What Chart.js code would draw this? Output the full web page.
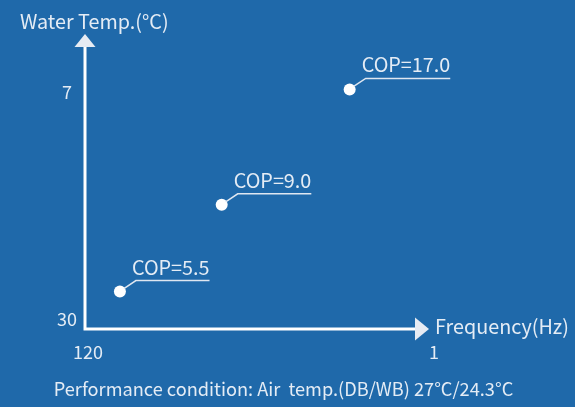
<!DOCTYPE html>
<html>
<head>
<meta charset="utf-8">
<script src="https://cdn.jsdelivr.net/npm/chart.js@4"></script>
<style>
  html, body { margin: 0; padding: 0; background: #1f69aa; }
  canvas { display: block; }
</style>
</head>
<body>
<canvas id="copChart" width="575" height="407"></canvas>
<script>
// chart data
const frequency = [109, 74, 30];          // Hz
const waterTemp = [27.2, 18.4, 6.7];      // °C
const copLabels = ['COP=5.5', 'COP=9.0', 'COP=17.0'];
const xTicks = [120, 1];
const yTicks = [7, 30];

const xTitle = 'Frequency(Hz)';
const yTitle = 'Water Temp.(°C)';
const footer = 'Performance condition: Air  temp.(DB/WB) 27°C/24.3°C';

const BG = '#1f69aa';
const TEXT = '#e4ecf5';
const FONT = "'Noto Sans CJK SC', 'Noto Sans', sans-serif";

Chart.defaults.font.family = FONT;
Chart.defaults.font.size = 18;
Chart.defaults.color = TEXT;

// axes with arrowheads, axis titles, COP callouts and the footer note
const decorations = {
    id: 'decorations',
    afterDatasetsDraw(chart) {
        const { ctx, chartArea: a } = chart;
        ctx.save();

        // axis lines
        ctx.strokeStyle = '#ffffff';
        ctx.lineWidth = 3;
        ctx.beginPath();
        ctx.moveTo(a.left, a.top);
        ctx.lineTo(a.left, a.bottom);
        ctx.lineTo(a.right - 19, a.bottom);
        ctx.stroke();

        // arrowheads
        ctx.fillStyle = '#e6ebf3';
        ctx.beginPath();
        ctx.moveTo(a.left, a.top - 13);
        ctx.lineTo(a.left - 10.5, a.top);
        ctx.lineTo(a.left + 10.5, a.top);
        ctx.closePath();
        ctx.fill();
        ctx.beginPath();
        ctx.moveTo(a.right - 5, a.bottom);
        ctx.lineTo(a.right - 19, a.bottom - 11.5);
        ctx.lineTo(a.right - 19, a.bottom + 11.5);
        ctx.closePath();
        ctx.fill();

        ctx.fillStyle = TEXT;

        // axis titles
        ctx.font = '19.8px ' + FONT;
        ctx.textAlign = 'left';
        ctx.textBaseline = 'middle';
        ctx.fillText(yTitle, 20, 21);
        ctx.fillText(xTitle, a.right + 1, a.bottom - 3);

        // footer
        ctx.font = '18.2px ' + FONT;
        ctx.textAlign = 'center';
        ctx.fillText(footer, chart.width / 2 - 4, 389);

        // callouts
        ctx.font = '19.8px ' + FONT;
        const meta = chart.getDatasetMeta(0);
        ctx.strokeStyle = '#dfe7f1';
        ctx.lineWidth = 1.5;
        ctx.textAlign = 'left';
        ctx.textBaseline = 'alphabetic';
        meta.data.forEach((pt, i) => {
            const ex = pt.x + 16, ey = pt.y - 11;
            const tx = ex - 4;
            const w = ctx.measureText(copLabels[i]).width;
            ctx.beginPath();
            ctx.moveTo(pt.x + 4, pt.y - 3);
            ctx.lineTo(ex, ey);
            ctx.lineTo(tx + w, ey);
            ctx.stroke();
            ctx.fillText(copLabels[i], tx, ey - 6);
        });

        ctx.restore();
    }
};

new Chart(document.getElementById('copChart'), {
    type: 'scatter',
    data: {
        datasets: [{
            data: frequency.map((f, i) => ({ x: f, y: waterTemp[i] })),
            pointRadius: 6,
            pointHoverRadius: 6,
            pointBackgroundColor: '#ffffff',
            pointBorderWidth: 0
        }]
    },
    options: {
        responsive: false,
        animation: false,
        layout: { padding: { left: 20, right: 141, top: 47, bottom: 0 } },
        plugins: {
            legend: { display: false },
            tooltip: { enabled: false }
        },
        scales: {
            x: {
                type: 'linear',
                reverse: true,
                min: 1,
                max: 121,
                grid: { display: false, drawTicks: false },
                border: { display: false },
                ticks: { padding: 12, color: TEXT },
                afterBuildTicks: s => { s.ticks = xTicks.map(v => ({ value: v })); },
                afterFit: s => { s.height = 78; }
            },
            y: {
                type: 'linear',
                reverse: true,
                min: 2.4,
                max: 31,
                grid: { display: false, drawTicks: false },
                border: { display: false },
                ticks: { padding: 8, crossAlign: 'center', color: TEXT },
                afterBuildTicks: s => { s.ticks = yTicks.map(v => ({ value: v })); },
                afterFit: s => { s.width = 65; }
            }
        }
    },
    plugins: [decorations]
});
</script>
</body>
</html>
